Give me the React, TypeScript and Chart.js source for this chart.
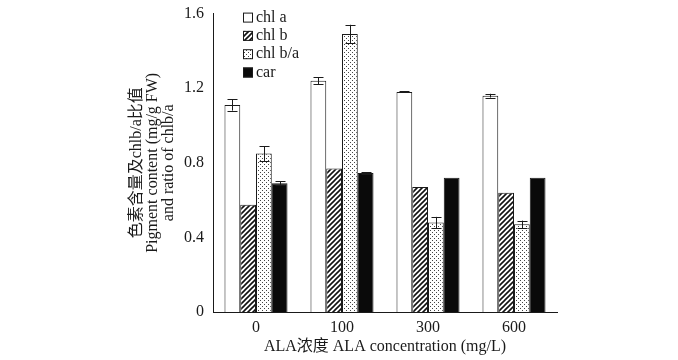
import React, { useEffect, useRef } from "react";
import { Chart, registerables } from "chart.js";

Chart.register(...registerables);

const categories = ["0", "100", "300", "600"];
const chlA = [1.11, 1.24, 1.18, 1.16];
const chlAErr = [0.03, 0.02, 0.003, 0.01];
const chlB = [0.575, 0.77, 0.67, 0.64];
const chlBErr = [0, 0, 0, 0];
const ratio = [0.85, 1.49, 0.48, 0.47];
const ratioErr = [0.04, 0.05, 0.03, 0.02];
const car = [0.69, 0.745, 0.72, 0.72];
const carErr = [0.01, 0.003, 0, 0];
const yTicks = [0, 0.4, 0.8, 1.2, 1.6];
const seriesLabels = ["chl a", "chl b", "chl b/a", "car"];

const FONT = '"Liberation Serif", "Noto Sans CJK SC", serif';
const INK = "#1a1a1a";

function hatchPattern(ctx: CanvasRenderingContext2D) {
  const c = document.createElement("canvas");
  c.width = 5;
  c.height = 5;
  const g = c.getContext("2d")!;
  g.fillStyle = "#fff";
  g.fillRect(0, 0, 5, 5);
  g.strokeStyle = "#111";
  g.lineWidth = 1.6;
  g.beginPath();
  g.moveTo(-1, 6);
  g.lineTo(6, -1);
  g.moveTo(-1, 1);
  g.lineTo(1, -1);
  g.moveTo(4, 6);
  g.lineTo(6, 4);
  g.stroke();
  return ctx.createPattern(c, "repeat")!;
}

function dotPattern(ctx: CanvasRenderingContext2D) {
  const c = document.createElement("canvas");
  c.width = 4;
  c.height = 4;
  const g = c.getContext("2d")!;
  g.fillStyle = "#fff";
  g.fillRect(0, 0, 4, 4);
  g.fillStyle = "#444";
  g.fillRect(0, 0, 1, 1);
  g.fillRect(2, 2, 1, 1);
  return ctx.createPattern(c, "repeat")!;
}

const errorBarPlugin = {
  id: "errorBars",
  afterDatasetsDraw(chart: any) {
    const ctx = chart.ctx;
    const y = chart.scales.y;
    ctx.save();
    ctx.strokeStyle = INK;
    ctx.lineWidth = 1;
    chart.data.datasets.forEach((ds: any, di: number) => {
      const meta = chart.getDatasetMeta(di);
      meta.data.forEach((el: any, i: number) => {
        const e = ds.errors[i];
        if (!e) return;
        const v = ds.data[i];
        const top = y.getPixelForValue(v + e);
        const bot = y.getPixelForValue(v - e);
        const x = Math.round(el.x) + 0.5;
        ctx.beginPath();
        ctx.moveTo(x, top);
        ctx.lineTo(x, bot);
        ctx.moveTo(x - 5, Math.round(top) + 0.5);
        ctx.lineTo(x + 5, Math.round(top) + 0.5);
        ctx.moveTo(x - 5, Math.round(bot) + 0.5);
        ctx.lineTo(x + 5, Math.round(bot) + 0.5);
        ctx.stroke();
      });
    });
    ctx.restore();
  },
};

const legendPlugin = {
  id: "innerLegend",
  afterDraw(chart: any) {
    const ctx = chart.ctx;
    const area = chart.chartArea;
    ctx.save();
    ctx.font = "16px " + FONT;
    ctx.textBaseline = "middle";
    ctx.textAlign = "left";
    chart.data.datasets.forEach((ds: any, i: number) => {
      const bx = area.left + 30;
      const cy = area.top + 4 + i * 18.3;
      ctx.fillStyle = ds.backgroundColor;
      ctx.fillRect(bx, cy - 5, 10, 10);
      ctx.strokeStyle = INK;
      ctx.lineWidth = 1;
      ctx.strokeRect(bx + 0.5, cy - 4.5, 9, 9);
      ctx.fillStyle = INK;
      ctx.fillText(ds.label, bx + 13, cy);
    });
    ctx.restore();
  },
};

export default function App() {
  const ref = useRef<HTMLCanvasElement>(null);
  useEffect(() => {
    const canvas = ref.current!;
    const ctx = canvas.getContext("2d")!;
    const hatch = hatchPattern(ctx);
    const dots = dotPattern(ctx);
    const common = {
      borderColor: INK,
      borderWidth: 1,
      categoryPercentage: 0.733,
      barPercentage: 1,
    };
    const chart = new Chart(canvas, {
      type: "bar",
      data: {
        labels: categories,
        datasets: [
          { label: seriesLabels[0], data: chlA, errors: chlAErr, backgroundColor: "#ffffff", ...common } as any,
          { label: seriesLabels[1], data: chlB, errors: chlBErr, backgroundColor: hatch, ...common } as any,
          { label: seriesLabels[2], data: ratio, errors: ratioErr, backgroundColor: dots, ...common } as any,
          { label: seriesLabels[3], data: car, errors: carErr, backgroundColor: "#0a0a0a", ...common } as any,
        ],
      },
      options: {
        animation: false,
        responsive: true,
        maintainAspectRatio: false,
        layout: { padding: { left: 0, right: 121, top: 13, bottom: 0 } },
        plugins: { legend: { display: false }, tooltip: { enabled: false } },
        scales: {
          x: {
            grid: { display: false, drawTicks: false },
            border: { color: INK, width: 1 },
            ticks: { color: INK, font: { family: FONT, size: 16 }, padding: 6 },
            title: {
              display: true,
              text: "ALA浓度 ALA concentration (mg/L)",
              color: INK,
              font: { family: FONT, size: 16 },
              padding: { top: 0, bottom: 4 },
            },
            afterFit(scale: any) {
              scale.height = 48;
            },
          },
          y: {
            min: 0,
            max: 1.6,
            afterBuildTicks(scale: any) {
              scale.ticks = yTicks.map((v) => ({ value: v }));
            },
            grid: { display: false, drawTicks: true, tickLength: 5, tickColor: INK } as any,
            border: { color: INK, width: 1 },
            ticks: {
              color: INK,
              font: { family: FONT, size: 16 },
              padding: 4,
              callback: (v: any) => String(v),
            },
            title: {
              display: true,
              text: ["色素含量及chlb/a比值", "Pigment content (mg/g FW)", "and ratio of chlb/a"],
              color: INK,
              font: { family: FONT, size: 16, lineHeight: 1.0 },
              padding: { top: 129, bottom: 0 },
            },
            afterFit(scale: any) {
              scale.width = 213;
            },
          },
        },
      },
      plugins: [errorBarPlugin, legendPlugin],
    });
    return () => chart.destroy();
  }, []);
  return (
    <div style={{ position: "absolute", left: 0, top: 0, width: 678, height: 360, background: "#fff" }}>
      <canvas ref={ref} />
    </div>
  );
}
